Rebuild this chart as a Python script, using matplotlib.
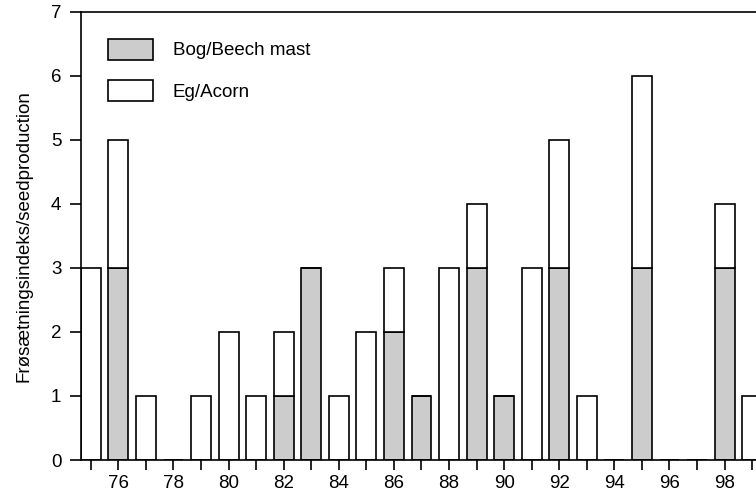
import numpy as np
import matplotlib.pyplot as plt

plt.rcParams['font.family'] = ['Liberation Sans', 'DejaVu Sans']

years = np.arange(75, 100)
beech = [0, 3, 0, 0, 0, 0, 0, 1, 3, 0, 0, 2, 1, 0, 3, 1, 0, 3, 0, 0, 3, 0, 0, 3, 0]
acorn = [3, 2, 1, 0, 1, 2, 1, 1, 0, 1, 2, 1, 0, 3, 1, 0, 3, 2, 1, 0, 3, 0, 0, 1, 1]
xticks = np.arange(76, 100, 2)

fig = plt.figure(figsize=(7.56, 4.92), dpi=100)
ax = fig.add_axes((0.107, 0.065, 0.893, 0.911))

w = 0.72
ax.bar(years, beech, width=w, color='#cccccc', edgecolor='black', linewidth=1.2,
       label='Bog/Beech mast')
ax.bar(years, acorn, width=w, bottom=beech, color='white', edgecolor='black',
       linewidth=1.2, label='Eg/Acorn')

ax.set_xlim(74.64, 99.14)
ax.set_ylim(0, 7)
ax.set_xticks(np.arange(75, 100), minor=True)
ax.set_xticks(xticks)
ax.set_xticklabels([str(t) for t in xticks])
ax.set_yticks(range(8))

ax.spines['right'].set_visible(False)
for s in ['left', 'bottom', 'top']:
    ax.spines[s].set_linewidth(1.2)
ax.tick_params(axis='y', direction='out', length=8, width=1.2, labelsize=13.5, pad=6)
ax.tick_params(axis='x', which='both', direction='out', length=7, width=1.2, labelsize=13.5, pad=3.8)

ax.set_ylabel('Frøsætningsindeks/seedproduction', fontsize=13.5, labelpad=13)

ax.legend(loc='upper left', bbox_to_anchor=(0.015, 0.978), frameon=False, fontsize=13.5,
          handlelength=2.4, handleheight=1.35, handletextpad=1.07, labelspacing=1.11)

fig.savefig('out.png', dpi=100)
